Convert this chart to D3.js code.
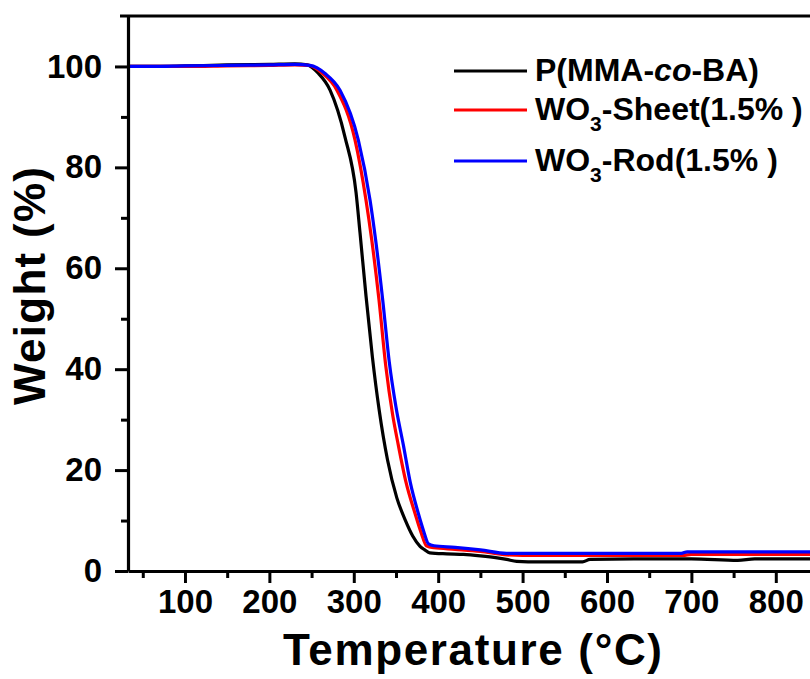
<!DOCTYPE html>
<html>
<head>
<meta charset="utf-8">
<script src="https://cdn.jsdelivr.net/npm/d3@7"></script>
<style>
  body { margin: 0; background: #fff; }
  svg text { font-family: "Liberation Sans", Arial, sans-serif; font-weight: bold; fill: #000; }
</style>
</head>
<body>
<svg></svg>
<script>
// TGA curves: temperature (deg C) and weight (%)
var blackT = [32, 60, 100, 150, 200, 230, 245, 257.6, 271.9, 289.6, 302.7, 307.4, 314.5, 322, 330, 340, 351, 361, 370, 378.5, 384, 390, 410, 430, 450, 470, 481, 493, 520, 571, 580, 650, 700, 755, 775, 800, 850];
var blackW = [100.0, 100.0, 100.1, 100.3, 100.4, 100.5, 100.3, 98.7, 95.3, 86.0, 75.0, 67.0, 54.5, 42.5, 32.0, 22.0, 14.5, 10.1, 6.9, 4.9, 4.2, 3.6, 3.4, 3.3, 3.0, 2.6, 2.3, 1.9, 1.8, 1.8, 2.3, 2.4, 2.4, 2.1, 2.4, 2.4, 2.4];

var redT = [32, 60, 100, 150, 200, 230, 247, 262.4, 280, 301.5, 314.5, 321.3, 329.9, 338, 346, 352.7, 362, 372.6, 380, 386, 395, 420, 450, 481, 500, 600, 690, 700, 850];
var redW = [100.0, 100.0, 100.0, 100.1, 100.2, 100.3, 100.2, 98.7, 95.3, 85.4, 73.5, 65.6, 53.7, 40.5, 31.0, 25.0, 17.5, 11.4, 7.5, 5.0, 4.6, 4.3, 3.9, 3.2, 3.1, 3.1, 3.1, 3.3, 3.3];

var blueT = [32, 60, 100, 150, 200, 230, 248, 266, 283.7, 305.4, 319.3, 325.9, 334.3, 342, 350, 358.7, 367, 376.5, 383, 388.4, 395, 420, 450, 481, 500, 600, 688, 695, 850];
var blueW = [100.0, 100.0, 100.1, 100.2, 100.3, 100.4, 100.2, 98.6, 95.3, 85.4, 73.5, 65.6, 53.7, 41.5, 32.5, 25.0, 17.5, 11.4, 7.8, 5.4, 5.0, 4.7, 4.2, 3.5, 3.5, 3.5, 3.5, 3.8, 3.8];

var seriesNames = ["P(MMA-co-BA)", "WO3-Sheet(1.5% )", "WO3-Rod(1.5% )"];
var seriesColors = ["#000000", "#ff0000", "#0000ff"];

var xMajor = [100, 200, 300, 400, 500, 600, 700, 800];
var xMinor = [50, 150, 250, 350, 450, 550, 650, 750];
var yMajor = [0, 20, 40, 60, 80, 100];
var yMinor = [10, 30, 50, 70, 90];

var viewWidth = 810;
var viewHeight = 679;

var svg = d3.select("svg")
    .attr("width", viewWidth)
    .attr("height", viewHeight);

var x = d3.scaleLinear()
    .domain([32.5, 850])
    .range([128, 818]);

var y = d3.scaleLinear()
    .domain([0, 110])
    .range([571, 16]);

svg.append("defs").append("clipPath")
    .attr("id", "plotclip")
  .append("rect")
    .attr("x", 128)
    .attr("y", 16)
    .attr("width", 700)
    .attr("height", 555);

// data lines: black first, blue on top
var series = [
    {t: blackT, w: blackW},
    {t: redT, w: redW},
    {t: blueT, w: blueW}
];

var line = d3.line()
    .x(function(d) { return x(d[0]); })
    .y(function(d) { return y(d[1]); })
    .curve(d3.curveMonotoneX);

var plot = svg.append("g").attr("clip-path", "url(#plotclip)");
series.forEach(function(s, i) {
    plot.append("path")
        .datum(d3.zip(s.t, s.w))
        .attr("fill", "none")
        .attr("stroke", seriesColors[i])
        .attr("stroke-width", 3.2)
        .attr("stroke-linejoin", "round")
        .attr("d", line);
});

// x axis
svg.append("g")
    .attr("transform", "translate(0,571)")
    .call(d3.axisBottom(x).tickValues(xMajor).tickSize(12).tickPadding(7).tickSizeOuter(0));
svg.append("g")
    .attr("transform", "translate(0,571)")
    .call(d3.axisBottom(x).tickValues(xMinor).tickSize(7).tickFormat("").tickSizeOuter(0))
    .select(".domain").remove();

// y axis
svg.append("g")
    .attr("transform", "translate(128,0)")
    .call(d3.axisLeft(y).tickValues(yMajor).tickSize(13).tickPadding(13).tickSizeOuter(0));
svg.append("g")
    .attr("transform", "translate(128,0)")
    .call(d3.axisLeft(y).tickValues(yMinor).tickSize(7).tickFormat("").tickSizeOuter(0))
    .select(".domain").remove();

svg.selectAll(".domain").attr("stroke", "#000").attr("stroke-width", 3.2);
svg.selectAll(".tick line").attr("stroke", "#000").attr("stroke-width", 3);
svg.selectAll(".tick text")
    .style("font-size", "33px")
    .attr("fill", "#000");

// top frame line
svg.append("line")
    .attr("x1", 120)
    .attr("x2", viewWidth)
    .attr("y1", 16)
    .attr("y2", 16)
    .attr("stroke", "#000")
    .attr("stroke-width", 3.2);

// axis titles
svg.append("text")
    .attr("x", 472.5)
    .attr("y", 665)
    .attr("text-anchor", "middle")
    .attr("textLength", 379)
    .attr("lengthAdjust", "spacing")
    .style("font-size", "44px")
    .text("Temperature (\u00B0C)");

svg.append("text")
    .attr("transform", "translate(45,286) rotate(-90)")
    .attr("text-anchor", "middle")
    .attr("textLength", 238)
    .attr("lengthAdjust", "spacing")
    .style("font-size", "44px")
    .text("Weight (%)");

// legend
var legendY = [71, 110, 161];
var legend = svg.append("g");
seriesNames.forEach(function(name, i) {
    legend.append("line")
        .attr("x1", 454)
        .attr("x2", 527)
        .attr("y1", legendY[i])
        .attr("y2", legendY[i])
        .attr("stroke", seriesColors[i])
        .attr("stroke-width", 3.2);

    var label = legend.append("text")
        .attr("x", 535)
        .attr("y", legendY[i] + 10)
        .style("font-size", "32px");

    if (i === 0) {
        label.append("tspan").text("P(MMA-");
        label.append("tspan").style("font-style", "italic").text("co");
        label.append("tspan").text("-BA)");
    } else {
        var parts = name.split("3");
        label.append("tspan").text(parts[0]);
        label.append("tspan").attr("dy", 11).style("font-size", "21px").text("3");
        label.append("tspan").attr("dy", -11).text(parts[1]);
    }
});
</script>
</body>
</html>
